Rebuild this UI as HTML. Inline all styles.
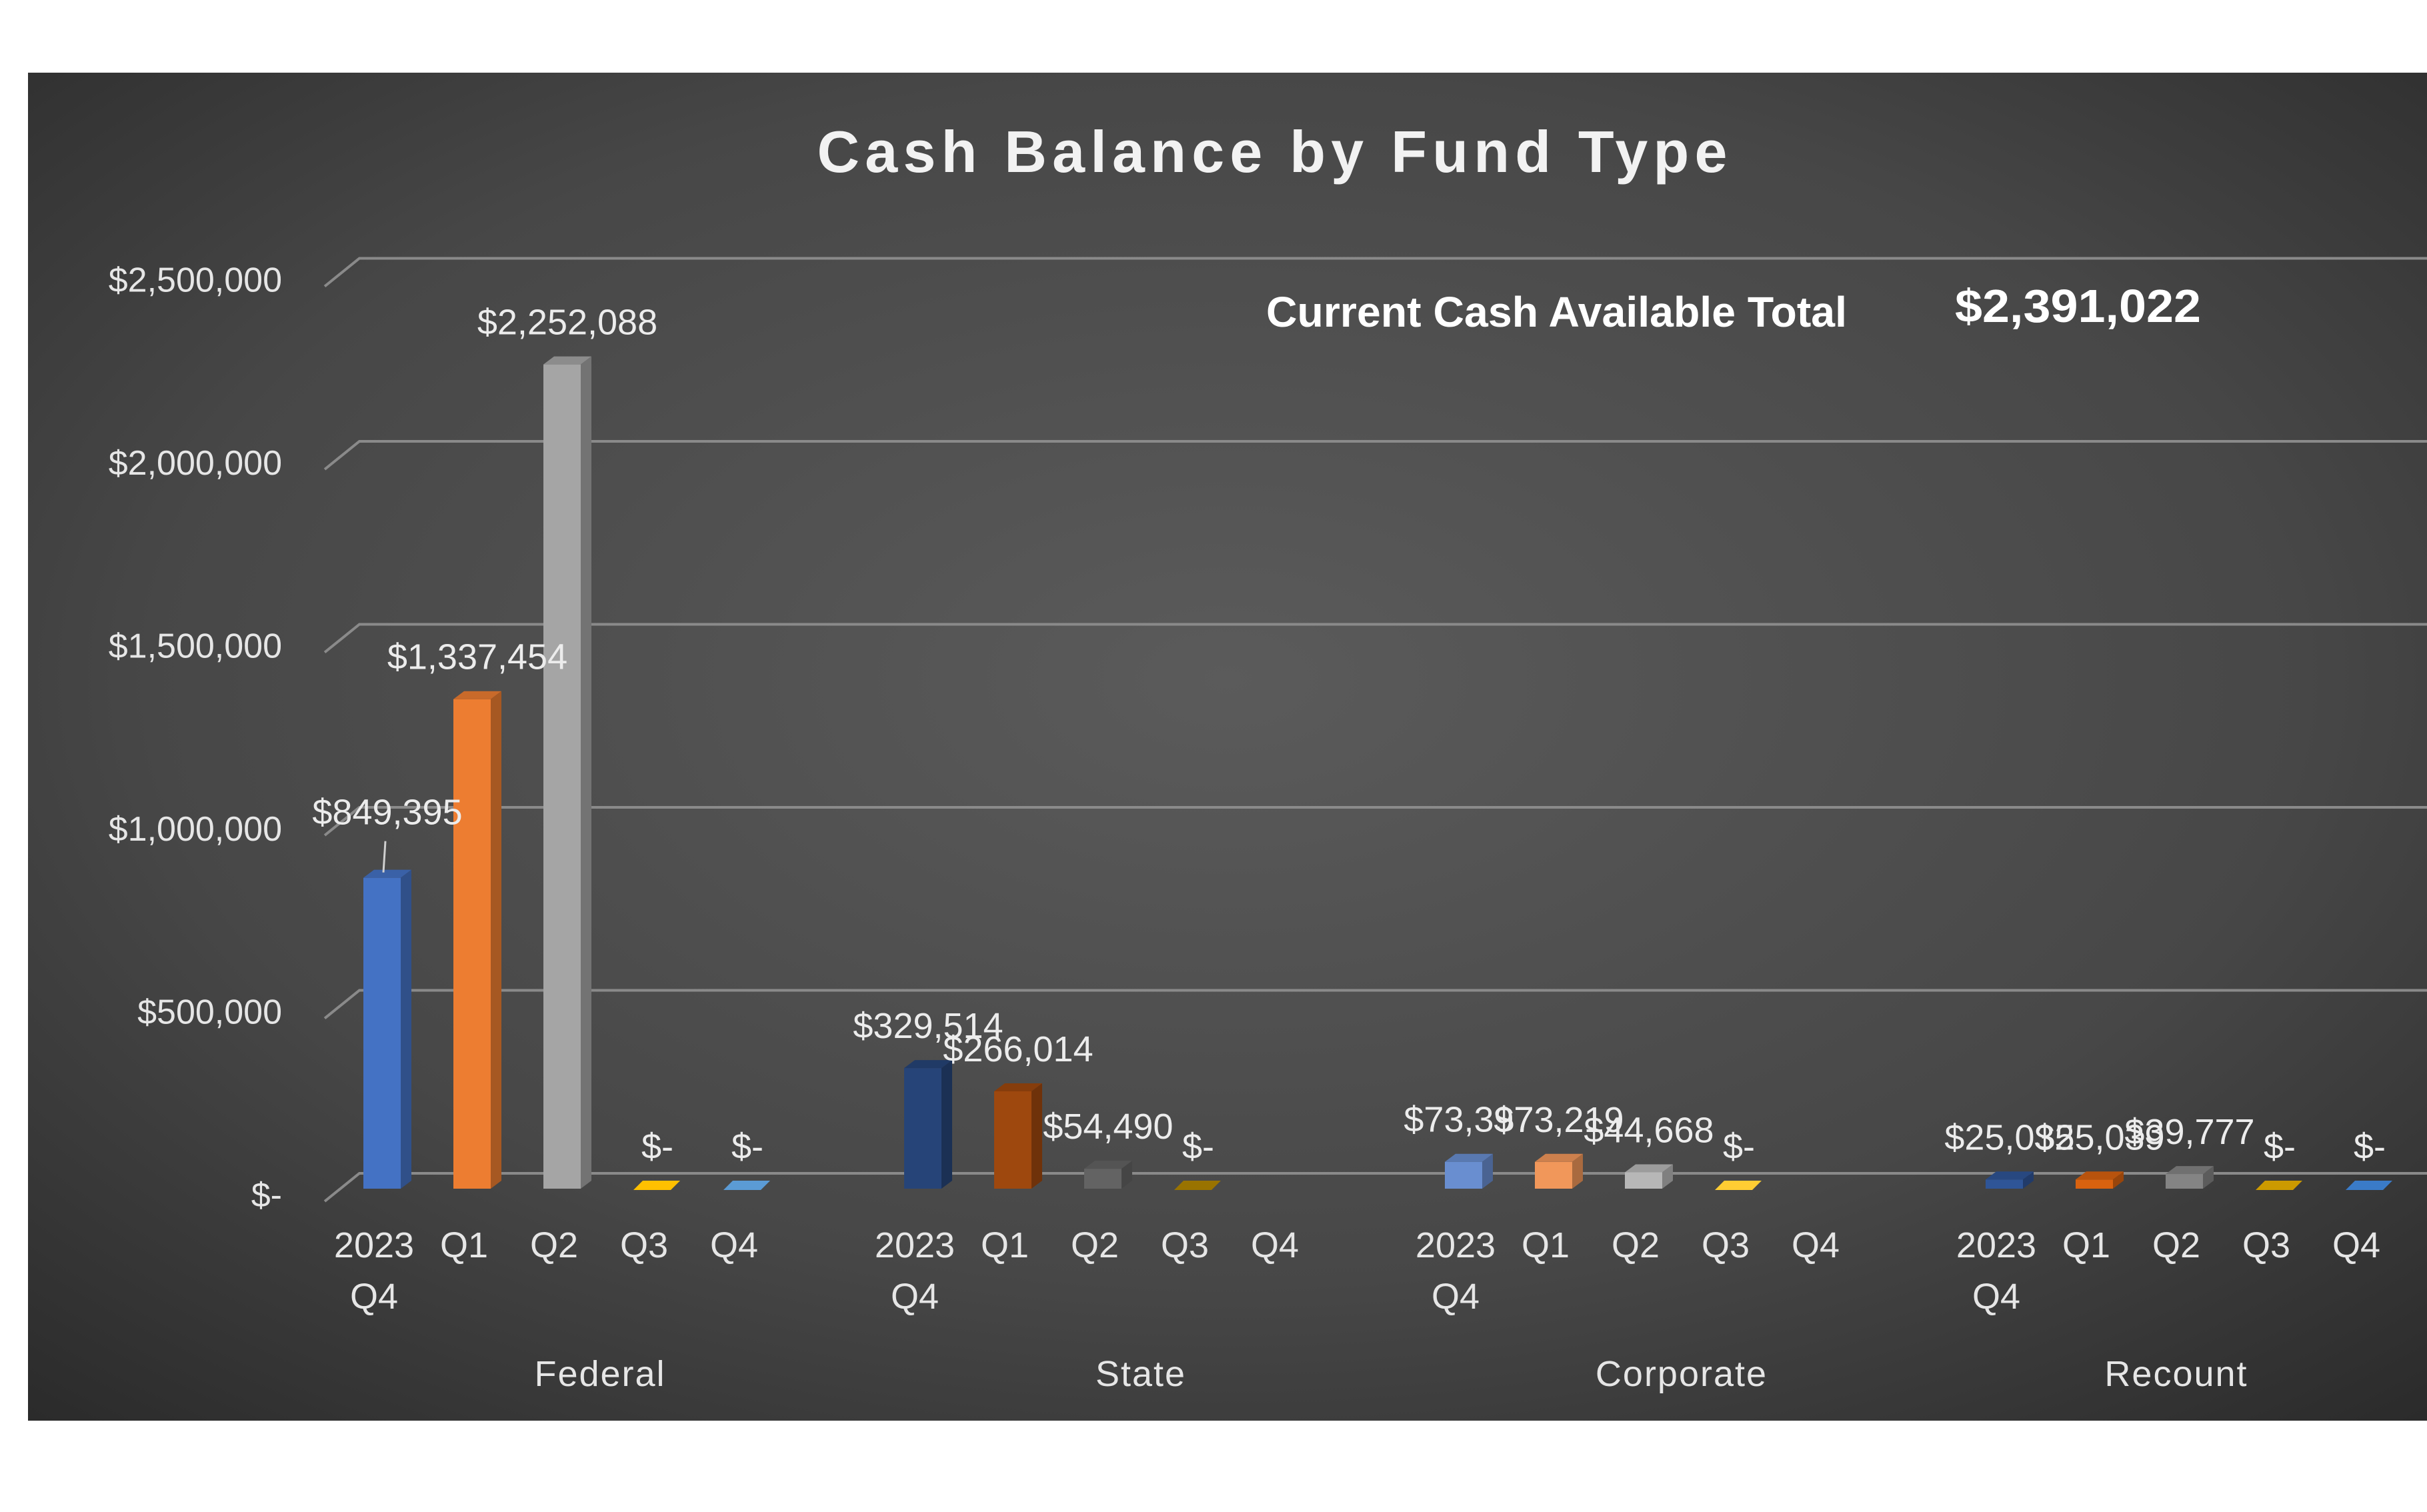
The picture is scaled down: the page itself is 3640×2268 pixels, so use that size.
<!DOCTYPE html>
<html><head><meta charset="utf-8"><style>
html,body{margin:0;padding:0;background:#fff;}
svg{display:block;}
text{font-family:"Liberation Sans",sans-serif;}
</style></head><body>
<svg id="chart" width="3640" height="2268" viewBox="0 0 3640 2268" xmlns="http://www.w3.org/2000/svg">
<defs>
<radialGradient id="bgGrad" cx="0.5" cy="0.45" r="0.75">
<stop offset="0" stop-color="#5b5b5b"/>
<stop offset="0.6" stop-color="#474747"/>
<stop offset="1" stop-color="#2a2a2a"/>
</radialGradient>
</defs>
<rect x="42" y="109" width="3598" height="2022" fill="url(#bgGrad)"/>
<text x="1908" y="258" text-anchor="middle" font-size="88" font-weight="bold" fill="#f2f2f2" textLength="1365" lengthAdjust="spacing">Cash Balance by Fund Type</text>
<text x="1899" y="490" font-size="64" font-weight="bold" fill="#ffffff" textLength="871" lengthAdjust="spacingAndGlyphs">Current Cash Available Total</text>
<text x="2932" y="483" font-size="70" font-weight="bold" fill="#ffffff" textLength="369" lengthAdjust="spacingAndGlyphs">$2,391,022</text>
<g id="grid"></g>
<g id="bars"></g>
<g id="labels"></g>
</svg>
<script>
const groups = ["Federal", "State", "Corporate", "Recount"];
const periods = ["2023|Q4", "Q1", "Q2", "Q3", "Q4"];
const federalValues = [849395, 1337454, 2252088, 0, 0];
const stateValues = [329514, 266014, 54490, 0, null];
const corporateValues = [73397, 73219, 44668, 0, null];
const recountValues = [25035, 25039, 39777, 0, 0];
const yTicks = [0, 500000, 1000000, 1500000, 2000000, 2500000];
const yTickLabels = ["$-", "$500,000", "$1,000,000", "$1,500,000", "$2,000,000", "$2,500,000"];

const seriesValues = [federalValues, stateValues, corporateValues, recountValues];
const palettes = [
  ["#4472c4", "#ed7d31", "#a5a5a5", "#ffc000", "#5b9bd5"],
  ["#264478", "#9e480e", "#636363", "#997300", "#255e91"],
  ["#698ed0", "#f1975a", "#b7b7b7", "#ffcd33", "#7cafdd"],
  ["#2f5597", "#d9620f", "#848484", "#cc9a00", "#3a7bc8"]
];
const NS = "http://www.w3.org/2000/svg";
const PX_PER_UNIT = 549 / 1e6;
const BASE_FRONT = 1783, BASE_BACK = 1760;
function yBack(v){ return BASE_BACK - v * PX_PER_UNIT; }
function yFront(v){ return BASE_FRONT - v * PX_PER_UNIT; }
function xBar(g, i){ return 545 + g * 811 + i * 135; }
function shade(hex, f){
  const n = parseInt(hex.slice(1), 16);
  let r = (n >> 16) & 255, g = (n >> 8) & 255, b = n & 255;
  r = Math.round(r * f); g = Math.round(g * f); b = Math.round(b * f);
  return "rgb(" + Math.min(255,r) + "," + Math.min(255,g) + "," + Math.min(255,b) + ")";
}
function mk(tag, attrs, parent){
  const el = document.createElementNS(NS, tag);
  for (const k in attrs) el.setAttribute(k, attrs[k]);
  parent.appendChild(el);
  return el;
}
function fmt(v){ return v === 0 ? "$-" : "$" + v.toLocaleString("en-US"); }

const grid = document.getElementById("grid");
const bars = document.getElementById("bars");
const labels = document.getElementById("labels");

yTicks.forEach(function(t, k){
  const y = yBack(t);
  const gl = mk("path", {d: "M487," + (y + 42) + " L539," + y + " L3640," + y, stroke: "#8a8a8a", "stroke-width": 4, fill: "none"}, grid);
  
  
  const tl = mk("text", {x: 423, y: y + 50, "text-anchor": "end", "font-size": 52, fill: "#e6e6e6"}, grid);
  tl.textContent = yTickLabels[k];
  
  
});

seriesValues.forEach(function(vals, g){
  vals.forEach(function(v, i){
    const x0 = xBar(g, i), w = 56, dx = 16, dy = 12;
    const col = palettes[g][i];
    const grp = mk("g", {}, bars);
    
    
    if (v === null) return;
    if (v === 0) {
      mk("polygon", {points: x0 + "," + (BASE_FRONT + 2) + " " + (x0 + w) + "," + (BASE_FRONT + 2) + " " + (x0 + w + 14) + "," + (BASE_FRONT - 12) + " " + (x0 + 14) + "," + (BASE_FRONT - 12), fill: col}, grp);
    } else {
      const top = yFront(v);
      mk("rect", {x: x0, y: top, width: w, height: BASE_FRONT - top, fill: col}, grp);
      mk("polygon", {points: x0 + "," + top + " " + (x0 + dx) + "," + (top - dy) + " " + (x0 + w + dx) + "," + (top - dy) + " " + (x0 + w) + "," + top, fill: shade(col, 0.85)}, grp);
      mk("polygon", {points: (x0 + w) + "," + top + " " + (x0 + w + dx) + "," + (top - dy) + " " + (x0 + w + dx) + "," + (BASE_FRONT - dy) + " " + (x0 + w) + "," + BASE_FRONT, fill: shade(col, 0.7)}, grp);
    }
    let ly = yFront(v) - 45;
    if (g === 0 && i === 0) {
      ly = yFront(v) - 80;
      const ll = mk("line", {x1: x0 + 30, y1: yFront(v) - 8, x2: x0 + 33, y2: yFront(v) - 55, stroke: "#cfcfcf", "stroke-width": 3}, labels);
      
      
    }
    const dl = mk("text", {x: x0 + 36, y: ly, "text-anchor": "middle", "font-size": 54, fill: "#ececec"}, labels);
    dl.textContent = fmt(v);
    
    
  });
  periods.forEach(function(p, i){
    const cx = xBar(g, i) + 16;
    const parts = p.split("|");
    parts.forEach(function(s, j){
      const ct = mk("text", {x: cx, y: 1886 + j * 77, "text-anchor": "middle", "font-size": 54, fill: "#e6e6e6"}, labels);
      ct.textContent = s;
      
      
    });
  });
  const gs = xBar(g, 0);
  const gx = Math.min(gs + 355, (gs + 3550) / 2);
  const gt = mk("text", {x: gx, y: 2079, "text-anchor": "middle", "font-size": 54, fill: "#e6e6e6", "letter-spacing": 2}, labels);
  gt.textContent = groups[g];
  
  
});
</script>
</body></html>
